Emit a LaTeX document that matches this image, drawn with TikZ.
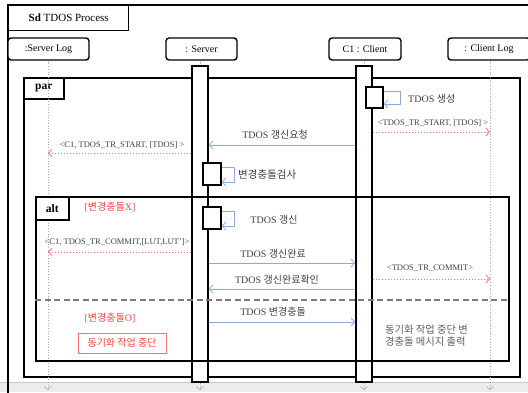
\documentclass[tikz,border=0pt]{standalone}
\usepackage{fontspec}
\setmainfont{Liberation Serif}
\newfontfamily\kr{Noto Sans CJK KR}
\usetikzlibrary{arrows.meta}
\definecolor{msgblue}{HTML}{8EA9DB}
\definecolor{logred}{HTML}{FF7070}
\definecolor{txtred}{HTML}{FF4040}
\definecolor{dgray}{HTML}{404040}
\definecolor{lifegray}{HTML}{A8A8A8}
\definecolor{sepgray}{HTML}{7A7A7A}
\begin{document}
\begin{tikzpicture}[x=1pt,y=-1pt,
  head/.style={draw, line width=1.4pt, rounded corners=3pt, fill=white, inner sep=0pt, minimum height=22pt, font=\fontsize{10}{12}\selectfont},
  actbar/.style={draw, line width=1.7pt, fill=white, inner sep=0pt, minimum width=16pt},
  selfbox/.style={draw, line width=1.7pt, fill=white, inner sep=0pt, minimum width=17pt, minimum height=22pt},
  framebox/.style={draw, line width=1.7pt, inner sep=0pt},
  framelbl/.style={draw, line width=1.7pt, fill=white, inner sep=0pt, font=\fontsize{11.5}{13}\selectfont\bfseries},
  msg/.style={draw=msgblue, line width=0.8pt, -{Straight Barb[length=3.5pt,width=8pt,line width=0.8pt]}},
  logmsg/.style={draw=logred, line width=1pt, dotted, -{Straight Barb[length=3.5pt,width=8pt,line width=0.8pt]}},
  lifeline/.style={draw=lifegray, line width=0.7pt, dotted},
  lifeend/.style={draw=lifegray, line width=0.7pt, dotted, -{Straight Barb[length=3pt,width=7pt,line width=0.6pt]}},
  lbl/.style={inner sep=0pt, text=dgray, font=\fontsize{10}{12}\selectfont},
  small/.style={inner sep=0pt, text=dgray, font=\fontsize{8.5}{10}\selectfont},
  redlbl/.style={inner sep=0pt, text=txtred, font=\fontsize{10}{12}\selectfont}
]
\useasboundingbox (0,0) rectangle (528,392);
\clip (0,0) rectangle (528,392);

% bottom band
\fill[gray!15] (0,382) rectangle (528,392);
\draw[gray!45, line width=0.6pt] (0,382) -- (528,382);

% outer frame and title
\draw[line width=1.4pt] (8,420) -- (8,5) -- (540,5);
\node[framebox, line width=1.4pt, anchor=north west, minimum width=120pt, minimum height=25pt, font=\fontsize{11}{13}\selectfont] (title) at (8,5) {\textbf{Sd} TDOS Process};

% par frame
\node[framebox, anchor=north west, minimum width=496pt, minimum height=299pt] (par) at (23,77) {};
\node[framelbl, anchor=north west, minimum width=40pt, minimum height=21pt] (parl) at (23,77) {par};

% lifeline heads
\node[head, minimum width=81pt] (slog) at (48.5,49) {:Server Log};
\node[head, minimum width=71pt] (srv) at (201.5,49) {: Server};
\node[head, minimum width=72pt] (cli) at (365,49) {C1 : Client};
\node[head, minimum width=82pt] (clog) at (489,49) {: Client Log};

% lifelines
\coordinate (slogend) at (48,390);
\coordinate (clogend) at (490,390);
\coordinate (srvend) at (200,390);
\coordinate (cliend) at (364,390);
\draw[lifeend] (slog.south -| slogend) -- (slogend);
\draw[lifeend] (clog.south -| clogend) -- (clogend);

% activation bars
\node[actbar, minimum height=316pt] (sbar) at (200,224) {};
\node[actbar, minimum height=316pt] (cbar) at (364,224) {};
\draw[lifeline] (srv.south -| sbar) -- (sbar.north);
\draw[lifeline] (cli.south -| cbar) -- (cbar.north);
\draw[lifeend] (sbar.south) -- (srvend);
\draw[lifeend] (cbar.south) -- (cliend);

% alt frame
\node[framebox, anchor=north west, minimum width=473pt, minimum height=164pt] (alt) at (35,196) {};
\node[framelbl, anchor=north west, minimum width=33pt, minimum height=23pt] (altl) at (35,196) {alt};
\draw[sepgray, line width=1.6pt, dash pattern=on 6pt off 3.5pt] (alt.west |- 0,300) -- (alt.east |- 0,300);

% self activations
\node[selfbox, minimum height=21pt] (cself) at (374.5,97.5) {};
\node[selfbox, minimum width=18pt] (sself1) at (212,174) {};
\node[selfbox, minimum width=18pt] (sself2) at (212,218) {};

\draw[msg] (cself.east |- 0,91) -- ++(17,0) -- ++(0,13) -- (cself.east |- 0,104);
\node[lbl, anchor=west] (l0) at (408,99) {TDOS {\kr 생성}};

\draw[msg] (sself1.east |- 0,167) -- ++(13,0) -- ++(0,15) -- (sself1.east |- 0,182);
\node[lbl, anchor=west, font=\fontsize{10.5}{12}\selectfont] (l3) at (238,175) {\kr 변경충돌검사};

\draw[msg] (sself2.east |- 0,211) -- ++(13,0) -- ++(0,15) -- (sself2.east |- 0,226);
\node[lbl] (l4) at (274,220) {TDOS {\kr 갱신}};

% messages
\draw[logmsg] (cbar.east |- 0,132) -- (clogend |- 0,132);
\node[small] (l1) at (433,123) {<TDOS\_TR\_START, [TDOS] >};

\draw[msg] (cbar.west |- 0,145) -- (sbar.east |- 0,145);
\node[lbl] (l2) at (275,135) {TDOS {\kr 갱신요청}};

\draw[logmsg] (sbar.west |- 0,153) -- (slogend |- 0,153);
\node[small] (l2b) at (122,145) {<C1, TDOS\_TR\_START, [TDOS] >};

\node[redlbl] (g1) at (110,207) {[{\kr 변경충돌}X]};

\draw[logmsg] (sbar.west |- 0,252) -- (slogend |- 0,252);
\node[small] (l5) at (117,242) {<C1, TDOS\_TR\_COMMIT,[LUT,LUT']>};

\draw[msg] (sbar.east |- 0,263) -- (cbar.west |- 0,263);
\node[lbl] (l6) at (273,254) {TDOS {\kr 갱신완료}};

\draw[logmsg] (cbar.east |- 0,279) -- (clogend |- 0,279);
\node[small] (l7) at (430,268) {<TDOS\_TR\_COMMIT>};

\draw[msg] (cbar.west |- 0,289) -- (sbar.east |- 0,289);
\node[lbl] (l8) at (277,280) {TDOS {\kr 갱신완료확인}};

\node[redlbl] (g2) at (110,318) {[{\kr 변경충돌}O]};

\draw[msg] (sbar.east |- 0,322) -- (cbar.west |- 0,322);
\node[lbl] (l9) at (273,312) {TDOS {\kr 변경충돌}};

\node[draw=logred, line width=0.8pt, text=txtred, inner sep=0pt, minimum width=88pt, minimum height=20pt, font=\fontsize{10}{12}\selectfont\kr] (stop) at (122,343) {동기화 작업 중단};

\node[inner sep=0pt, anchor=north west, align=left, text=dgray!85, font=\fontsize{10.3}{12}\selectfont\kr] (msgout) at (385,325) {동기화 작업 중단 변\\경충돌 메시지 출력};

\end{tikzpicture}
\end{document}
